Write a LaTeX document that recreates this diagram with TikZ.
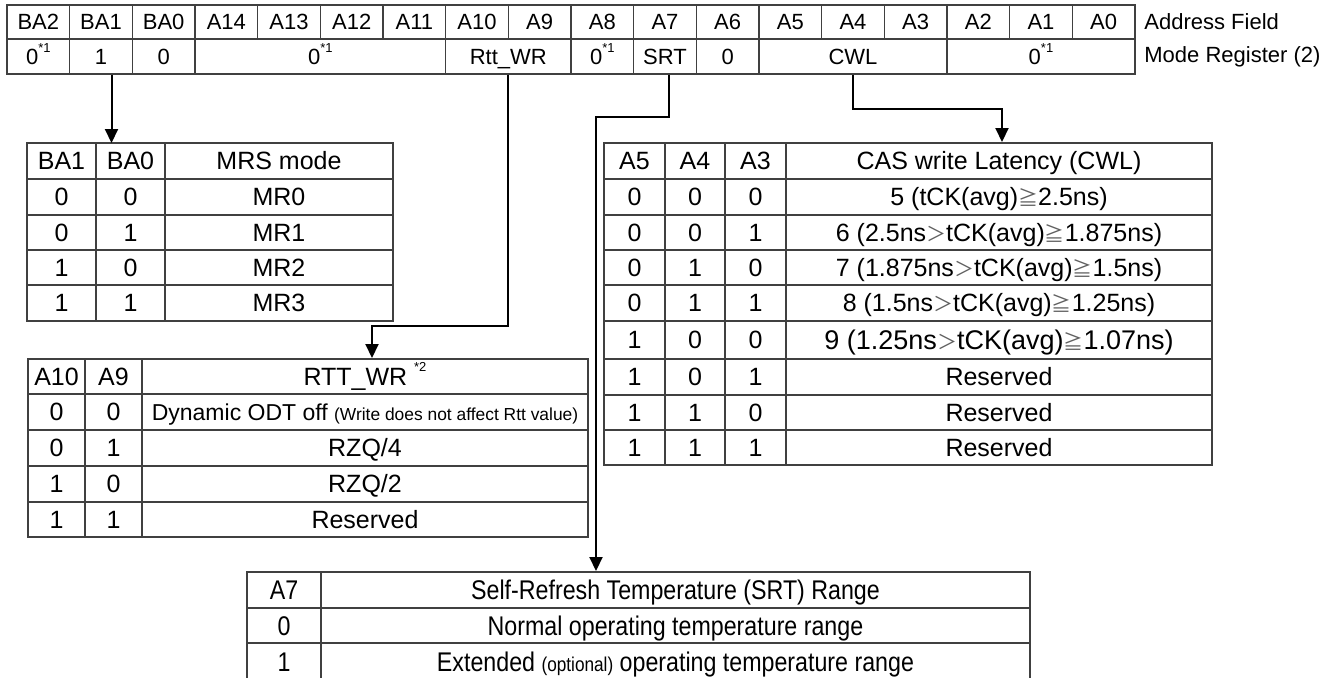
\documentclass[tikz,border=0pt]{standalone}
\usepackage{fontspec}
\setmainfont{Liberation Sans}
\newfontfamily\cjk{Noto Sans CJK JP}
\newfontfamily\narrowf[FakeStretch=0.86]{Liberation Sans}
\usetikzlibrary{arrows.meta}
\definecolor{tabline}{HTML}{404040}
\definecolor{symgray}{HTML}{606060}
\newcommand\supx[2][6pt]{\raisebox{#1}{\fontsize{6.5}{6.5}\selectfont #2}}
\newcommand\gtsym{{\cjk\fontsize{10}{10}\selectfont\color{symgray}＞}}
\newcommand\gesym{{\cjk\fontsize{10}{10}\selectfont\color{symgray}≧}}
\newcommand\cel[7][]{\pgfmathsetmacro\celw{(#5-#3)*0.5}\pgfmathsetmacro\celh{(#6-#4)*0.5}%
 \node[cellbox,#1,minimum width=\celw pt,minimum height=\celh pt] (#2) at ({(#3+#5)/2},{(#4+#6)/2}) {#7};}
\tikzset{
 cellbox/.style={draw=tabline, line width=0.6pt, inner sep=0pt, text depth=0pt, align=center},
 regf/.style={font=\fontsize{11}{13}\selectfont, text height=7.9pt},
 tabf/.style={font=\fontsize{12.5}{14}\selectfont, text height=8.95pt},
 bigf/.style={font=\fontsize{13.5}{15}\selectfont, text height=9.6pt},
 srtf/.style={font=\narrowf\fontsize{13.5}{15}\selectfont, text height=9.7pt},
 lab/.style={font=\fontsize{11}{13}\selectfont, inner sep=0pt, anchor=west},
 arr/.style={line width=1pt, -{Triangle[length=7pt,width=6.5pt]}},
}
\begin{document}
\begin{tikzpicture}[x=0.5pt,y=-0.5pt]
\useasboundingbox (0,0) rectangle (1334,677);
% ---- register table ----
\foreach \t [count=\i from 0] in {BA2,BA1,BA0,A14,A13,A12,A11,A10,A9,A8,A7,A6,A5,A4,A3,A2,A1,A0}{%
 \pgfmathsetmacro\xa{7+\i*62.667}\pgfmathsetmacro\xb{7+(\i+1)*62.667}%
 \cel[regf]{h\i}{\xa}{5}{\xb}{39}{\t}}
\cel[regf]{v-ba2}{7}{39}{69.67}{74}{0\supx{*1}}
\cel[regf]{v-ba1}{69.67}{39}{132.33}{74}{1}
\cel[regf]{v-ba0}{132.33}{39}{195}{74}{0}
\cel[regf]{v-a14}{195}{39}{445.67}{74}{0\supx{*1}}
\cel[regf]{v-rtt}{445.67}{39}{571}{74}{Rtt\_WR}
\cel[regf]{v-a8}{571}{39}{633.67}{74}{0\supx{*1}}
\cel[regf]{v-srt}{633.67}{39}{696.33}{74}{SRT}
\cel[regf]{v-a6}{696.33}{39}{759}{74}{0}
\cel[regf]{v-cwl}{759}{39}{947}{74}{CWL}
\cel[regf]{v-a2}{947}{39}{1135}{74}{0\supx{*1}}
\node[lab] (lab1) at (1144,22) {Address Field};
\node[lab] (lab2) at (1144,57) {Mode Register (2)};
% ---- MRS table ----
\cel[tabf]{m-h0}{27}{143}{96}{179}{BA1}
\cel[tabf]{m-h1}{96}{143}{165}{179}{BA0}
\cel[tabf]{m-h2}{165}{143}{393}{179}{MRS mode}
\foreach \a/\b/\c [count=\r from 1] in {0/0/MR0,0/1/MR1,1/0/MR2,1/1/MR3}{%
 \pgfmathsetmacro\ya{ifthenelse(\r==1,179,ifthenelse(\r==2,215,ifthenelse(\r==3,250,285)))}%
 \pgfmathsetmacro\yb{ifthenelse(\r==1,215,ifthenelse(\r==2,250,ifthenelse(\r==3,285,321)))}%
 \cel[tabf]{m-\r a}{27}{\ya}{96}{\yb}{\a}
 \cel[tabf]{m-\r b}{96}{\ya}{165}{\yb}{\b}
 \cel[tabf]{m-\r c}{165}{\ya}{393}{\yb}{\c}}
% ---- RTT table ----
\cel[tabf]{r-h0}{28}{359}{85}{394}{A10}
\cel[tabf]{r-h1}{85}{359}{142}{394}{A9}
\cel[tabf]{r-h2}{142}{359}{588}{394}{RTT\_WR\ \supx[7pt]{*2}}
\cel[tabf]{r-1a}{28}{394}{85}{430}{0}
\cel[tabf]{r-1b}{85}{394}{142}{430}{0}
\cel[tabf,font=\fontsize{11.5}{13}\selectfont]{r-1c}{142}{394}{588}{430}{Dynamic ODT off {\fontsize{8.7}{10}\selectfont(Write does not affect Rtt value)}}
\cel[tabf]{r-2a}{28}{430}{85}{466}{0}
\cel[tabf]{r-2b}{85}{430}{142}{466}{1}
\cel[tabf]{r-2c}{142}{430}{588}{466}{RZQ/4}
\cel[tabf]{r-3a}{28}{466}{85}{502}{1}
\cel[tabf]{r-3b}{85}{466}{142}{502}{0}
\cel[tabf]{r-3c}{142}{466}{588}{502}{RZQ/2}
\cel[tabf]{r-4a}{28}{502}{85}{537}{1}
\cel[tabf]{r-4b}{85}{502}{142}{537}{1}
\cel[tabf]{r-4c}{142}{502}{588}{537}{Reserved}
% ---- CWL table ----
\cel[tabf]{c-h0}{604}{143}{665}{179}{A5}
\cel[tabf]{c-h1}{665}{143}{725}{179}{A4}
\cel[tabf]{c-h2}{725}{143}{786}{179}{A3}
\cel[tabf]{c-h3}{786}{143}{1212}{179}{CAS write Latency (CWL)}
\foreach \ya/\yb/\a/\b/\c/\d/\f [count=\r from 1] in {%
 179/215/0/0/0/{5 (tCK(avg)\gesym 2.5ns)}/tabf,
 215/250/0/0/1/{6 (2.5ns\gtsym tCK(avg)\gesym 1.875ns)}/tabf,
 250/285/0/1/0/{7 (1.875ns\gtsym tCK(avg)\gesym 1.5ns)}/tabf,
 285/321/0/1/1/{8 (1.5ns\gtsym tCK(avg)\gesym 1.25ns)}/tabf,
 321/359/1/0/0/{9 (1.25ns\gtsym tCK(avg)\gesym 1.07ns)}/bigf,
 359/395/1/0/1/Reserved/tabf,
 395/430/1/1/0/Reserved/tabf,
 430/465/1/1/1/Reserved/tabf}{%
 \cel[tabf]{c-\r a}{604}{\ya}{665}{\yb}{\a}
 \cel[tabf]{c-\r b}{665}{\ya}{725}{\yb}{\b}
 \cel[tabf]{c-\r c}{725}{\ya}{786}{\yb}{\c}
 \cel[\f]{c-\r d}{786}{\ya}{1212}{\yb}{\d}}
% ---- SRT table ----
\cel[srtf]{s-h0}{247}{572}{321}{608}{A7}
\cel[srtf]{s-h1}{321}{572}{1030}{608}{Self-Refresh Temperature (SRT) Range}
\cel[srtf]{s-1a}{247}{608}{321}{643}{0}
\cel[srtf]{s-1b}{321}{608}{1030}{643}{Normal operating temperature range}
\cel[srtf]{s-2a}{247}{643}{321}{680}{1}
\cel[srtf]{s-2b}{321}{643}{1030}{680}{Extended {\fontsize{10}{11}\selectfont(optional)} operating temperature range}
% ---- connectors ----
\coordinate (yba) at (0,143);
\coordinate (yrtt) at (0,326);
\coordinate (rttin) at (372,358);
\coordinate (ysrt) at (0,117);
\coordinate (srtin) at (596,571);
\coordinate (ycwl) at (0,109);
\coordinate (cwlin) at (1002,142);
\draw[arr] ([xshift=5.25pt]v-ba1.south) -- ([xshift=5.25pt]v-ba1.south |- yba);
\draw[arr] (v-rtt.south) -- (v-rtt.south |- yrtt) -| (rttin);
\draw[arr] ([xshift=2pt]v-srt.south) -- ([xshift=2pt]v-srt.south |- ysrt) -| (srtin);
\draw[arr] (v-cwl.south) -- (v-cwl.south |- ycwl) -| (cwlin);
\end{tikzpicture}
\end{document}
